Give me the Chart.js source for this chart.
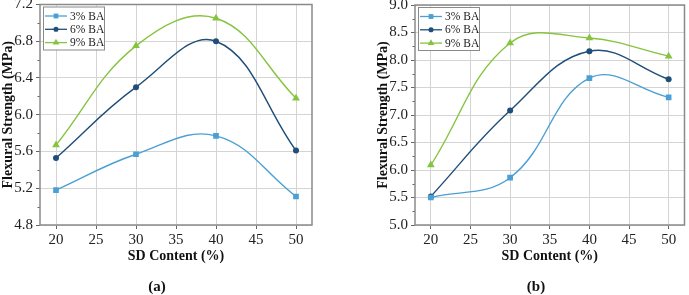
<!DOCTYPE html>
<html><head><meta charset="utf-8">
<script src="https://cdn.jsdelivr.net/npm/chart.js@4/dist/chart.umd.min.js"></script>
<style>
html,body{margin:0;padding:0;background:#fff;}
body{width:689px;height:295px;position:relative;overflow:hidden;font-family:"Liberation Serif",serif;}
.c{position:absolute;top:0;height:295px;}
#wa{left:0;width:345px;} #wb{left:345px;width:344px;}
.lab{position:absolute;top:278px;width:40px;text-align:center;font:bold 15px "Liberation Serif",serif;color:#111;line-height:17px;}
</style></head><body>
<div class="c" id="wa"><canvas id="ca" width="345" height="295"></canvas></div>
<div class="c" id="wb"><canvas id="cb" width="344" height="295"></canvas></div>
<div class="lab" style="left:137px">(a)</div>
<div class="lab" style="left:516px">(b)</div>
<script>
// ---- data ----
const sdContent = [20, 30, 40, 50];
const seriesNames = ['3% BA', '6% BA', '9% BA'];
const strengthA3 = [5.18, 5.57, 5.77, 5.11];
const strengthA6 = [5.53, 6.30, 6.80, 5.61];
const strengthA9 = [5.67, 6.75, 7.05, 6.18];
const strengthB3 = [5.50, 5.86, 7.67, 7.32];
const strengthB6 = [5.52, 7.08, 8.16, 7.65];
const strengthB9 = [6.09, 8.31, 8.40, 8.07];
const yTicksA = [4.8, 5.2, 5.6, 6.0, 6.4, 6.8, 7.2];
const yTicksB = [5.0, 5.5, 6.0, 6.5, 7.0, 7.5, 8.0, 8.5, 9.0];
const xTicks = [20, 25, 30, 35, 40, 45, 50];
const xTitle = 'SD Content (%)';
const yTitle = 'Flexural Strength (MPa)';

// ---- styles ----
const colors = ['#4a9fd4', '#1f4e79', '#86c440'];
const pStyles = ['rect', 'circle', 'triangle'];
const pRadius = [4, 3, 4.5];
const FONT = '"Liberation Serif", "Times New Roman", serif';

function drawMarker(ctx, style, x, y, r, color) {
  ctx.save();
  ctx.fillStyle = color;
  ctx.beginPath();
  if (style === 'rect') {
    const s = Math.SQRT1_2 * r;
    ctx.rect(x - s, y - s, 2 * s, 2 * s);
  } else if (style === 'circle') {
    ctx.arc(x, y, r, 0, Math.PI * 2);
  } else {
    ctx.moveTo(x, y - r);
    ctx.lineTo(x + r * 0.866, y + r * 0.5);
    ctx.lineTo(x - r * 0.866, y + r * 0.5);
    ctx.closePath();
  }
  ctx.fill();
  ctx.restore();
}

const framePlugin = {
  id: 'frame',
  beforeDatasetsDraw(chart) {
    const {ctx, chartArea: a} = chart;
    const ys = chart.scales.y;
    const ticks = ys.ticks.map(t => t.value);
    ctx.save();
    ctx.strokeStyle = '#666';
    ctx.lineWidth = 1;
    for (let i = 0; i < ticks.length - 1; i++) {
      const m = (ticks[i] + ticks[i + 1]) / 2;
      const py = Math.round(ys.getPixelForValue(m)) + 0.5;
      ctx.beginPath();
      ctx.moveTo(a.left - 2.5, py);
      ctx.lineTo(a.left, py);
      ctx.stroke();
    }
    ctx.strokeStyle = '#8a8a8a';
    ctx.lineWidth = 1.5;
    ctx.strokeRect(a.left, a.top, a.right - a.left, a.bottom - a.top);
    ctx.restore();
  },
  afterDraw(chart) {
    const {ctx, chartArea: a} = chart;
    const L = a.left + 3, T = a.top + 2;
    ctx.save();
    ctx.fillStyle = '#fff';
    ctx.fillRect(L, T, 61, 43);
    ctx.strokeStyle = '#8a8a8a';
    ctx.lineWidth = 1;
    ctx.strokeRect(L + 0.5, T + 0.5, 61, 43);
    ctx.font = '11.5px ' + FONT;
    ctx.textBaseline = 'middle';
    chart.data.datasets.forEach((ds, i) => {
      const y = T + 9.5 + i * 13.3;
      ctx.strokeStyle = ds.borderColor;
      ctx.lineWidth = 1.3;
      ctx.beginPath();
      ctx.moveTo(L + 2, y);
      ctx.lineTo(L + 24, y);
      ctx.stroke();
      drawMarker(ctx, ds.pointStyle, L + 13, y, ds.pointRadius * 0.85, ds.borderColor);
      ctx.fillStyle = '#222';
      ctx.fillText(ds.label, L + 27, y + 0.5);
    });
    ctx.restore();
  }
};

function makeChart(id, seriesList, yTicks, pad) {
  const datasets = seriesList.map((vals, i) => ({
    label: seriesNames[i],
    data: sdContent.map((x, j) => ({x: x, y: vals[j]})),
    borderColor: colors[i],
    backgroundColor: colors[i],
    borderWidth: 1.4,
    pointStyle: pStyles[i],
    pointRadius: pRadius[i],
    pointBorderWidth: 0,
    pointBackgroundColor: colors[i],
    tension: 0.4,
    fill: false
  }));
  return new Chart(document.getElementById(id), {
    type: 'line',
    data: {datasets},
    plugins: [framePlugin],
    options: {
      responsive: false,
      animation: false,
      devicePixelRatio: 1,
      layout: {padding: pad},
      plugins: {legend: {display: false}, tooltip: {enabled: false}},
      scales: {
        x: {
          type: 'linear', min: 18, max: 52,
          afterBuildTicks: s => { s.ticks = xTicks.map(v => ({value: v})); },
          afterFit: s => { s.height = 40; s.paddingLeft = 0; s.paddingRight = 0; s.paddingTop = 0; s.paddingBottom = 0; },
          ticks: {font: {family: FONT, size: 15}, color: '#222', padding: 2, maxRotation: 0, autoSkip: false, callback: v => String(v)},
          grid: {color: '#d4d4d4', lineWidth: 1, tickColor: '#666', tickLength: 4},
          border: {display: false},
          title: {display: true, text: xTitle, font: {family: FONT, size: 14, weight: 'bold'}, color: '#111', padding: {top: 0, bottom: 0}}
        },
        y: {
          type: 'linear', min: yTicks[0], max: yTicks[yTicks.length - 1],
          afterBuildTicks: s => { s.ticks = yTicks.map(v => ({value: v})); },
          afterFit: s => { s.width = 40; s.paddingLeft = 0; s.paddingRight = 0; s.paddingTop = 0; s.paddingBottom = 0; },
          ticks: {font: {family: FONT, size: 15}, color: '#222', padding: 3, autoSkip: false, callback: v => Number(v).toFixed(1)},
          grid: {color: '#d4d4d4', lineWidth: 1, tickColor: '#666', tickLength: 4},
          border: {display: false},
          title: {display: true, text: yTitle, font: {family: FONT, size: 14, weight: 'bold'}, color: '#111', padding: {top: 0, bottom: 0}}
        }
      }
    }
  });
}

makeChart('ca', [strengthA3, strengthA6, strengthA9], yTicksA, {left: 0, top: 4, right: 33, bottom: 30});
makeChart('cb', [strengthB3, strengthB6, strengthB9], yTicksB, {left: 30, top: 5, right: 1, bottom: 30});
</script>
</body></html>
